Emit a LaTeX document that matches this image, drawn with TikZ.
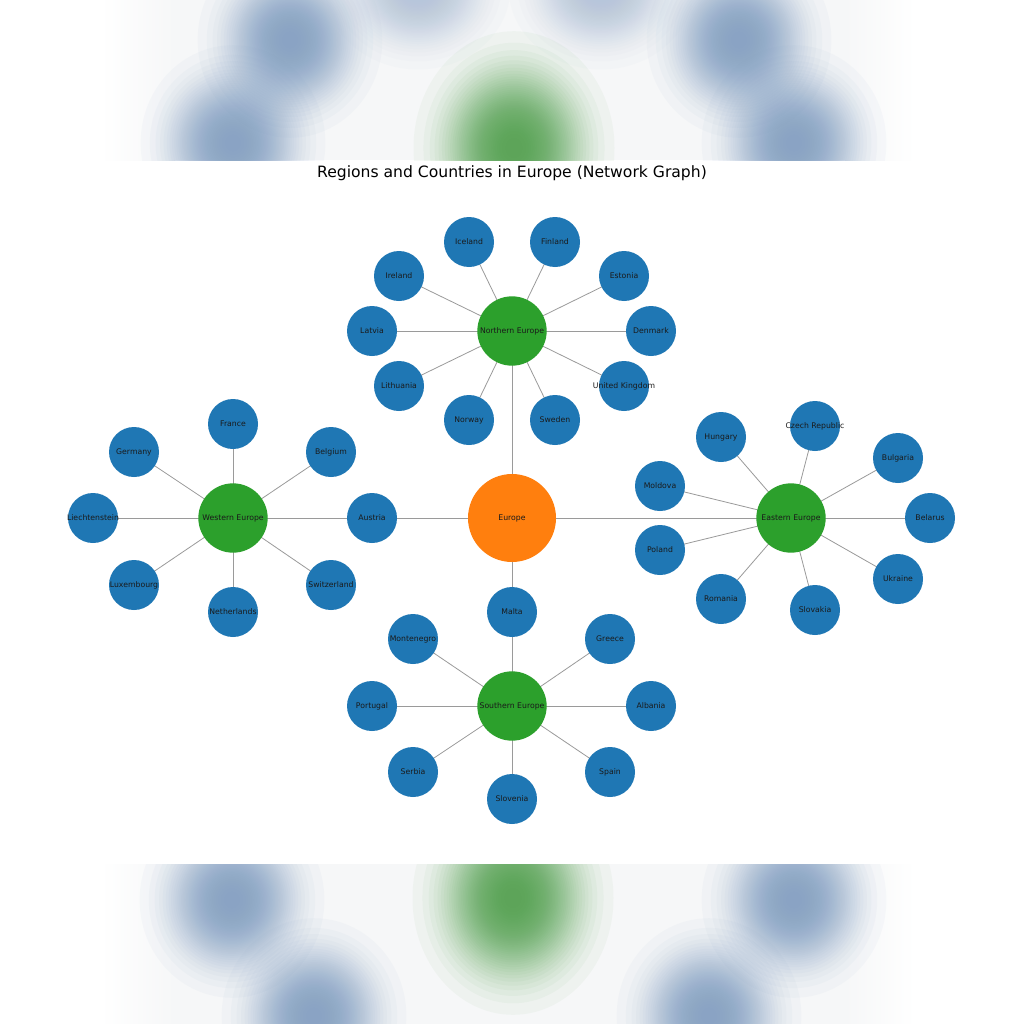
\documentclass[tikz,border=0pt]{standalone}
\usepackage{fontspec}
\setmainfont{DejaVu Sans}
\definecolor{nblue}{HTML}{1F77B4}
\definecolor{ngreen}{HTML}{2CA02C}
\definecolor{norange}{HTML}{FF7F0E}
\definecolor{edgegray}{HTML}{9A9A9A}
\definecolor{blobblue}{HTML}{809EC4}
\definecolor{blobgreen}{HTML}{4C9F47}
\definecolor{bandbg}{HTML}{F6F7F8}
\definecolor{labeltext}{HTML}{1A1A1A}
\pgfdeclarelayer{back}
\pgfdeclarelayer{edges}
\pgfsetlayers{back,edges,main}
% Gaussian-like blur: 39 nested ellipses, radii sigma*sqrt(2 ln(40/k))
\newcommand\fuzzyblob[6]{% x, y, sigma x, sigma y, colour, opacity per layer
  \foreach \k in {1,...,39}{%
    \pgfmathsetmacro\blobf{sqrt(2*ln(40/\k))}%
    \fill[#5, fill opacity=#6] (#1,#2) ellipse ({#3*\blobf} and {#4*\blobf});
  }%
}
\tikzset{
  country/.style={circle, fill=nblue, minimum size=37.5pt, inner sep=0pt},
  region/.style={circle, fill=ngreen, minimum size=52pt, inner sep=0pt},
  rootnode/.style={circle, fill=norange, minimum size=66pt, inner sep=0pt},
  every label/.style={font=\fontsize{5.8}{6}\selectfont, text=labeltext, inner sep=0pt},
  link/.style={draw=edgegray, line width=0.6pt},
  titlefont/.style={font=\fontsize{11.7}{13}\selectfont, text=black}
}
\begin{document}
\begin{tikzpicture}[x=0.75pt, y=-0.75pt]
\useasboundingbox (0,0) rectangle (1024,1024);
\begin{pgfonlayer}{back}
\fill[white] (0,0) rectangle (1024,1024);
% top blurred band
\begin{scope}
\clip (95,0) rectangle (920,160);
\shade[left color=white, right color=bandbg] (100,0) rectangle (175,160);
\fill[bandbg] (175,0) rectangle (845,160);
\shade[left color=bandbg, right color=white] (845,0) rectangle (915,160);
\fuzzyblob{290}{40}{34}{36}{blobblue}{0.047}
\fuzzyblob{233}{143}{34}{36}{blobblue}{0.047}
\fuzzyblob{739}{40}{34}{36}{blobblue}{0.047}
\fuzzyblob{794}{143}{34}{36}{blobblue}{0.047}
\fuzzyblob{418}{-12}{34}{30}{blobblue!55!bandbg}{0.047}
\fuzzyblob{601}{-12}{34}{30}{blobblue!55!bandbg}{0.047}
\fuzzyblob{514}{148}{37}{43}{blobgreen}{0.048}
\end{scope}
% bottom blurred band
\begin{scope}
\clip (95,864) rectangle (920,1024);
\shade[left color=white, right color=bandbg] (100,864) rectangle (175,1024);
\fill[bandbg] (175,864) rectangle (845,1024);
\shade[left color=bandbg, right color=white] (845,864) rectangle (915,1024);
\fuzzyblob{232}{900}{34}{36}{blobblue}{0.047}
\fuzzyblob{794}{900}{34}{36}{blobblue}{0.047}
\fuzzyblob{314}{1016}{34}{36}{blobblue}{0.047}
\fuzzyblob{709}{1016}{34}{36}{blobblue}{0.047}
\fuzzyblob{513}{898}{37}{43}{blobgreen}{0.048}
\end{scope}
\end{pgfonlayer}

\node[titlefont] (title) at (512,173) {Regions and Countries in Europe (Network Graph)};

\node[rootnode, label={center:Europe}] (eu) at (512,518) {};
\node[region, label={center:Northern Europe}] (ne) at (512,331) {};
\node[region, label={center:Western Europe}] (we) at (233,518) {};
\node[region, label={center:Eastern Europe}] (ee) at (791,518) {};
\node[region, label={center:Southern Europe}] (se) at (512,706) {};

% Northern
\node[country, label={center:Iceland}] (ice) at (469,242) {};
\node[country, label={center:Finland}] (fin) at (555,242) {};
\node[country, label={center:Ireland}] (irl) at (399,276) {};
\node[country, label={center:Estonia}] (est) at (624,276) {};
\node[country, label={center:Latvia}] (lva) at (372,331) {};
\node[country, label={center:Denmark}] (dnk) at (651,331) {};
\node[country, label={center:Lithuania}] (ltu) at (399,386) {};
\node[country, label={center:United Kingdom}] (gbr) at (624,386) {};
\node[country, label={center:Norway}] (nor) at (469,420) {};
\node[country, label={center:Sweden}] (swe) at (555,420) {};
% Western
\node[country, label={center:France}] (fra) at (233,424) {};
\node[country, label={center:Germany}] (deu) at (134,452) {};
\node[country, label={center:Belgium}] (bel) at (331,452) {};
\node[country, label={center:Liechtenstein}] (lie) at (93,518) {};
\node[country, label={center:Austria}] (aut) at (372,518) {};
\node[country, label={center:Luxembourg}] (lux) at (134,585) {};
\node[country, label={center:Switzerland}] (che) at (331,585) {};
\node[country, label={center:Netherlands}] (nld) at (233,612) {};
% Eastern
\node[country, label={center:Czech Republic}] (cze) at (815,426) {};
\node[country, label={center:Hungary}] (hun) at (721,437) {};
\node[country, label={center:Bulgaria}] (bgr) at (898,458) {};
\node[country, label={center:Moldova}] (mda) at (660,486) {};
\node[country, label={center:Belarus}] (blr) at (930,518) {};
\node[country, label={center:Poland}] (pol) at (660,550) {};
\node[country, label={center:Ukraine}] (ukr) at (898,579) {};
\node[country, label={center:Romania}] (rou) at (721,599) {};
\node[country, label={center:Slovakia}] (svk) at (815,610) {};
% Southern
\node[country, label={center:Malta}] (mlt) at (512,612) {};
\node[country, label={center:Montenegro}] (mne) at (413,639) {};
\node[country, label={center:Greece}] (grc) at (610,639) {};
\node[country, label={center:Portugal}] (prt) at (372,706) {};
\node[country, label={center:Albania}] (alb) at (651,706) {};
\node[country, label={center:Serbia}] (srb) at (413,772) {};
\node[country, label={center:Spain}] (esp) at (610,772) {};
\node[country, label={center:Slovenia}] (svn) at (512,799) {};

\begin{pgfonlayer}{edges}
\foreach \r in {ne,we,ee,se} \draw[link] (eu.center) -- (\r.center);
\foreach \c in {ice,fin,irl,est,lva,dnk,ltu,gbr,nor,swe} \draw[link] (ne.center) -- (\c.center);
\foreach \c in {fra,deu,bel,lie,aut,lux,che,nld} \draw[link] (we.center) -- (\c.center);
\foreach \c in {cze,hun,bgr,mda,blr,pol,ukr,rou,svk} \draw[link] (ee.center) -- (\c.center);
\foreach \c in {mlt,mne,grc,prt,alb,srb,esp,svn} \draw[link] (se.center) -- (\c.center);
\end{pgfonlayer}
\end{tikzpicture}
\end{document}
